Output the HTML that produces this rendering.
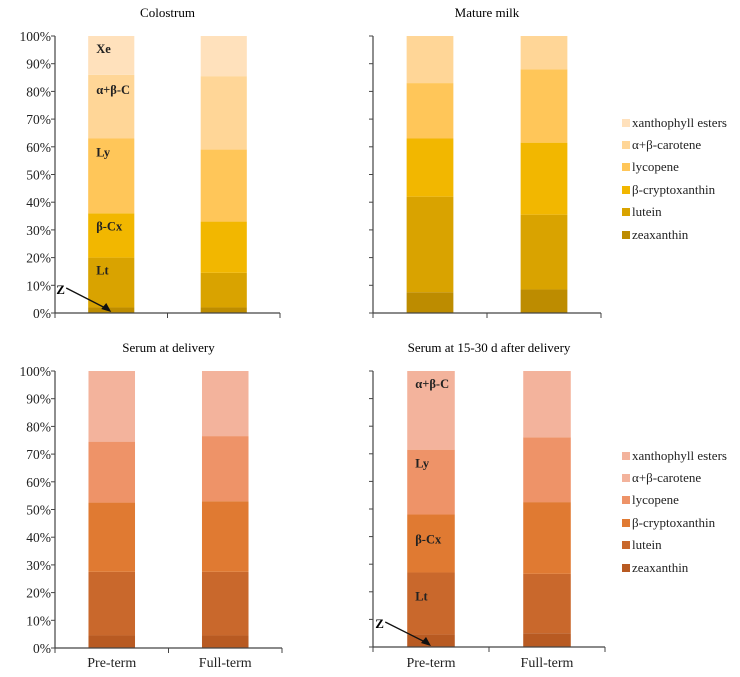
<!DOCTYPE html>
<html><head><meta charset="utf-8"><style>
body{margin:0;background:#fff}
svg{display:block;font-family:"Liberation Serif",serif}
</style></head><body>
<svg id="s" width="740" height="677"></svg>
<script>
const categories=["Pre-term","Full-term"];
const seriesNames=["zeaxanthin","lutein","β-cryptoxanthin","lycopene","α+β-carotene","xanthophyll esters"];
const tickLabels=["0%","10%","20%","30%","40%","50%","60%","70%","80%","90%","100%"];
const colostrumPre=[2,18,16,27,23,14];
const colostrumFull=[2,12.5,18.5,26,26.5,14.5];
const matureMilkPre=[7.5,34.5,21,20,17,0];
const matureMilkFull=[8.5,27,26,26.5,12,0];
const serumDeliveryPre=[4.5,23,25,22,25.5,0];
const serumDeliveryFull=[4.5,23,25.5,23.5,23.5,0];
const serumLaterPre=[4.5,22.5,21,23.5,28.5,0];
const serumLaterFull=[5,21.5,26,23.5,24,0];
const yellow=["#BD8C00","#D9A300","#F2B700","#FFC659","#FFD697","#FFE1BC"];
const orange=["#B85A22","#C9682C","#E07A32","#EE9368","#F3B39C","#F3B39C"];
const NS="http://www.w3.org/2000/svg";
const svg=document.getElementById('s');
function mk(t,a,p){const e=document.createElementNS(NS,t);for(const k in a)e.setAttribute(k,a[k]);(p||svg).appendChild(e);return e;}
function txt(x,y,s,a,p){const e=mk('text',Object.assign({x:x,y:y},a),p);e.textContent=s;return e;}
const panels=[
 {name:"colostrum",title:"Colostrum",ax:55,ax2:280,top:36,bot:313,ty:17,data:[colostrumPre,colostrumFull],col:yellow,labels:true,ann:true,xl:false,off:[0,17,17,18,19,17]},
 {name:"mature-milk",title:"Mature milk",ax:373,ax2:601,top:36,bot:313,ty:17,data:[matureMilkPre,matureMilkFull],col:yellow,labels:false,ann:false,xl:false,legend:127},
 {name:"serum-delivery",title:"Serum at delivery",ax:55,ax2:282,top:371,bot:648,ty:352,data:[serumDeliveryPre,serumDeliveryFull],col:orange,labels:true,ann:false,xl:true},
 {name:"serum-15-30d",title:"Serum at 15-30 d after delivery",ax:373,ax2:605,top:371,bot:647,ty:352,data:[serumLaterPre,serumLaterFull],col:orange,labels:false,ann:true,xl:true,legend:460,off:[0,28,29,18,17,17]}
];
const abbr=["Z","Lt","β-Cx","Ly","α+β-C","Xe"];
panels.forEach(P=>{
 const g=mk('g',{});
 
 
 const t=txt((P.ax+P.ax2)/2,P.ty,P.title,{'text-anchor':'middle','font-size':13},g);
 
 const y=v=>P.bot-(P.bot-P.top)*v/100;
 const w=P.ax2-P.ax, band=w/categories.length, bw=band*0.41;
 const x=i=>P.ax+band*(i+0.5);
 P.data.forEach((vals,i)=>{
  let c=0;
  vals.forEach((v,k)=>{
   if(v<=0)return;
   const r=mk('rect',{x:x(i)-bw/2,y:y(c+v),width:bw,height:y(c)-y(c+v),fill:P.col[k]},g);
   
   
   if(P.ann&&i===0&&k>=1){const l=txt(x(i)-bw/2+8,y(c+v)+P.off[k],abbr[k],{'font-size':12.5,'font-weight':'bold','fill':'#222'},g);
    }
   c+=v;
  });
 });
 mk('line',{x1:P.ax,y1:P.top,x2:P.ax,y2:P.bot,stroke:'#444','stroke-width':1.2},g);
 mk('line',{x1:P.ax,y1:P.bot,x2:P.ax2,y2:P.bot,stroke:'#444','stroke-width':1.2},g);
 tickLabels.forEach((lab,k)=>{
  const yy=y(k*10);
  mk('line',{x1:P.ax-4,y1:yy,x2:P.ax,y2:yy,stroke:'#444'},g);
  if(P.labels){const e=txt(P.ax-4,yy+5,lab,{'text-anchor':'end','font-size':13.5,'fill':'#222'},g);}
 });
 for(let i=0;i<=categories.length;i++){mk('line',{x1:P.ax+band*i,y1:P.bot,x2:P.ax+band*i,y2:P.bot+5,stroke:'#444'},g);}
 if(P.xl)categories.forEach((c,i)=>{const e=txt(x(i),667,c,{'text-anchor':'middle','font-size':14,'fill':'#222'},g);});
 if(P.ann){
  const zx=x(0)-bw/2-10;
  const e=txt(zx-22,P.bot-19,"Z",{'font-size':13,'font-weight':'bold'},g);
  mk('line',{x1:zx-12,y1:P.bot-25,x2:x(0)-4,y2:P.bot-4,stroke:'#111','stroke-width':1.3},g);
  mk('polygon',{points:`${x(0)},${P.bot-1} ${x(0)-10},${P.bot-4} ${x(0)-5},${P.bot-10}`,fill:'#111'},g);
 }
 if(P.legend){
  const gl=mk('g',{},g);
  const steps=[0,22,44,67,89,112];
  for(let k=5;k>=0;k--){
   const yy=P.legend+steps[5-k];
   const le=mk('g',{},gl);
   mk('rect',{x:622,y:yy-8,width:8,height:8,fill:P.col[k]},le);
   txt(632,yy,seriesNames[k],{'font-size':13,'fill':'#222'},le);
  }
 }
});
</script>
</body></html>
